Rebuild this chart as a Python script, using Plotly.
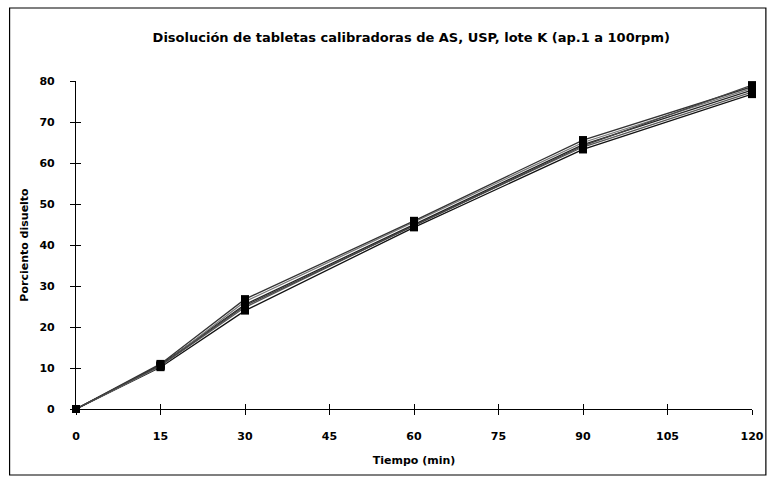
import plotly.graph_objects as go

tiempo = [0, 15, 30, 60, 90, 120]
vaso1 = [0, 10.2, 24.0, 44.3, 63.3, 76.8]
vaso2 = [0, 10.5, 24.8, 44.8, 63.9, 77.3]
vaso3 = [0, 10.8, 25.5, 45.1, 64.5, 77.8]
vaso4 = [0, 10.4, 26.2, 45.5, 65.0, 78.2]
vaso5 = [0, 11.0, 26.8, 45.9, 65.6, 78.6]
vaso6 = [0, 10.6, 25.2, 44.6, 64.2, 79.0]
series = [vaso1, vaso2, vaso3, vaso4, vaso5, vaso6]
line_colors = ["#111111", "#555555", "#222222", "#777777", "#333333", "#444444"]

x_ticks = [0, 15, 30, 45, 60, 75, 90, 105, 120]
y_ticks = [0, 10, 20, 30, 40, 50, 60, 70, 80]

title = "Disolución de tabletas calibradoras de AS, USP, lote K (ap.1 a 100rpm)"
x_title = "Tiempo (min)"
y_title = "Porciento disuelto"

font_family = "DejaVu Sans, Liberation Sans, Arial, sans-serif"
bold = dict(family=font_family, color="#000000", weight="bold")

fig = go.Figure()
for i, vals in enumerate(series):
    fig.add_trace(go.Scatter(
        x=tiempo, y=vals, mode="lines+markers",
        line=dict(color=line_colors[i], width=1.3),
        marker=dict(symbol="square", size=8, color="#000000"),
        cliponaxis=False, showlegend=False,
    ))

axis_common = dict(showgrid=False, zeroline=False, showline=True,
                   linecolor="#000000", linewidth=1.2,
                   ticks="outside", ticklen=5, tickcolor="#000000", tickwidth=1,
                   tickfont=dict(size=11, **bold))

fig.update_layout(
    width=776, height=477,
    margin=dict(l=76, r=18, t=81, b=68),
    paper_bgcolor="#ffffff", plot_bgcolor="#ffffff",
    title=dict(text=title, x=0.53, xanchor="center", y=1 - 37 / 477, yanchor="middle",
               font=dict(size=13, **bold)),
    xaxis=dict(range=[0, 120], tickmode="array", tickvals=x_ticks,
               title=dict(text=x_title, standoff=14, font=dict(size=11, **bold)),
               ticklabelstandoff=12, **axis_common),
    yaxis=dict(range=[0, 80], tickmode="array", tickvals=y_ticks,
               title=dict(text=y_title, standoff=8, font=dict(size=11, **bold)),
               ticklabelstandoff=13, **axis_common),
    xaxis2=dict(range=[0, 120], overlaying="x", tickmode="array", tickvals=x_ticks,
                showticklabels=False, showgrid=False, zeroline=False, showline=False,
                ticks="inside", ticklen=5, tickcolor="#000000", side="bottom", matches="x"),
    yaxis2=dict(range=[0, 80], overlaying="y", tickmode="array", tickvals=y_ticks,
                showticklabels=False, showgrid=False, zeroline=False, showline=False,
                ticks="inside", ticklen=5, tickcolor="#000000", side="left", matches="y"),
    shapes=[dict(type="rect", xref="paper", yref="paper",
                 x0=-67 / 682, x1=(772 - 76) / 682, y0=-(475 - 409) / 328, y1=(409 - 8) / 328,
                 line=dict(color="#000000", width=1.2), fillcolor="rgba(0,0,0,0)", layer="below")],
)
fig.add_trace(go.Scatter(x=[0], y=[0], xaxis="x2", yaxis="y2", mode="markers",
                         marker=dict(size=1, opacity=0), showlegend=False, hoverinfo="skip"))

fig.write_html("out.html")
